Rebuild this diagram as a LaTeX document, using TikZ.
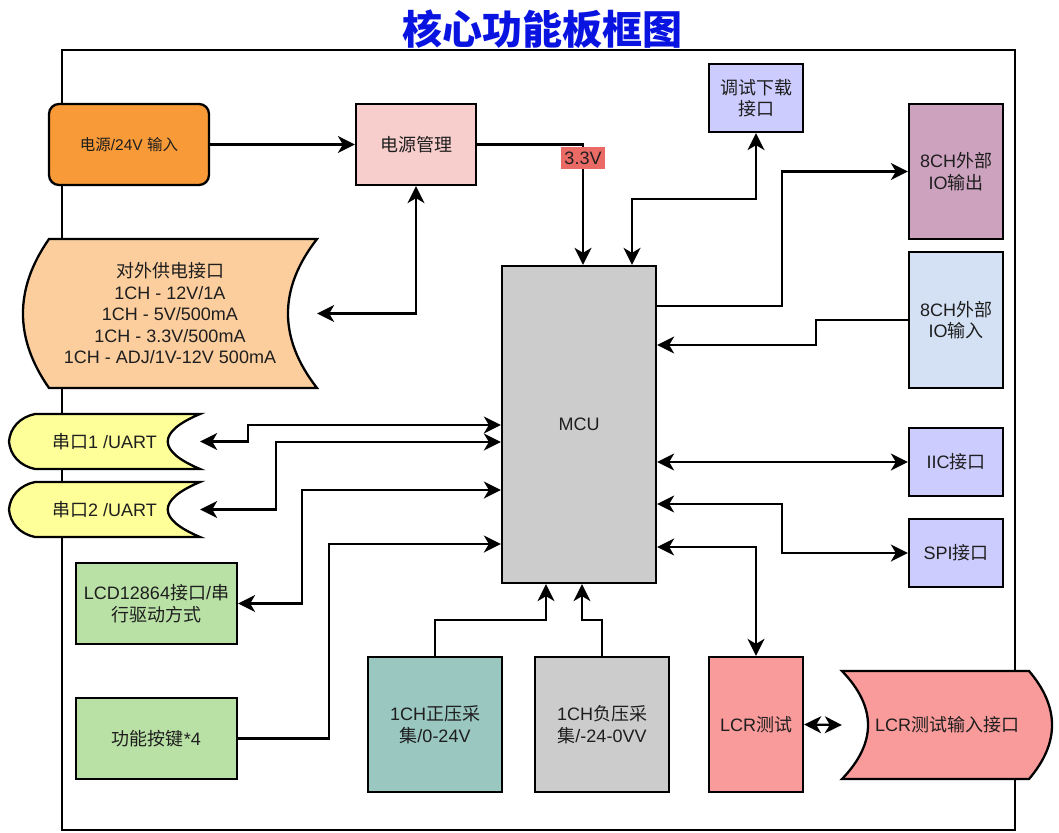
\documentclass[tikz,border=0pt]{standalone}
\usepackage{fontspec}
\setmainfont{Liberation Sans}
\newfontfamily\cjk{Noto Sans CJK SC}
\usetikzlibrary{arrows.meta,calc}
\newcommand{\zh}[1]{{\cjk #1}}
\definecolor{txt}{RGB}{30,30,30}
\definecolor{corange}{RGB}{248,154,56}
\definecolor{cpink}{RGB}{248,206,204}
\definecolor{cpeach}{RGB}{252,206,158}
\definecolor{cyel}{RGB}{255,255,153}
\definecolor{cgreen}{RGB}{185,224,165}
\definecolor{cteal}{RGB}{154,199,191}
\definecolor{cgray}{RGB}{204,204,204}
\definecolor{clav}{RGB}{204,204,255}
\definecolor{cmauve}{RGB}{205,162,190}
\definecolor{clblue}{RGB}{212,225,245}
\definecolor{csalmon}{RGB}{250,155,155}
\definecolor{clabel}{RGB}{234,107,102}
\definecolor{ctitle}{RGB}{10,20,225}
\tikzset{
  blk/.style={draw=black, line width=2.3pt, inner sep=2pt, align=center, text=txt,
    font=\fontsize{18}{21.5}\selectfont},
  ghost/.style={inner sep=2pt, align=center, text=txt, font=\fontsize{18}{21.5}\selectfont},
  shp/.style={draw=black, line width=2.3pt},
  tip/.tip={Stealth[length=17pt,width=17pt,inset=5pt]},
  conn/.style={line width=2.3pt, draw=black, -tip},
  conn2/.style={line width=2.3pt, draw=black, tip-tip},
}
\begin{document}
\begin{tikzpicture}[x=1pt,y=-1pt]
\useasboundingbox (0,0) rectangle (1059,832);
% frame
\draw[line width=2.3pt] (62,50) rectangle (1015,830);
% title
\node[text=ctitle, font=\cjk\bfseries\fontsize{40}{44}\selectfont, inner sep=0pt] (title) at (542,29) {核心功能板框图};

% custom shapes
\path[shp, fill=cpeach] (49,239) -- (317,239) .. controls (278.3,288.7) and (278.3,338.3) .. (317,388) -- (49,388) .. controls (14.3,338.3) and (14.3,288.7) .. (49,239) -- cycle;
\path[shp, fill=cyel] (35,414) -- (200,414) .. controls (157,432) and (157,451) .. (200,469) -- (35,469) .. controls (20,466) and (10,455) .. (9,441.5) .. controls (10,428) and (20,417) .. (35,414) -- cycle;
\path[shp, fill=cyel] (35,482) -- (200,482) .. controls (157,500) and (157,519) .. (200,537) -- (35,537) .. controls (20,534) and (10,523) .. (9,509.5) .. controls (10,496) and (20,485) .. (35,482) -- cycle;
\path[shp, fill=csalmon] (842,671) -- (1029,671) .. controls (1059.7,707) and (1059.7,743) .. (1029,779) -- (842,779) .. controls (876.7,743) and (876.7,707) .. (842,671) -- cycle;

% nodes
\node[blk, fill=corange, rounded corners=10pt, minimum width=160pt, minimum height=81pt, font=\fontsize{15.5}{18}\selectfont] (pin) at (129,144.5) {\zh{电源}/24V \zh{输入}};
\node[blk, fill=cpink, minimum width=120pt, minimum height=81pt] (pm) at (416,144.5) {\zh{电源管理}};
\node[ghost, minimum width=294pt, minimum height=149pt] (sup) at (170,313.5) {\zh{对外供电接口}\\1CH - 12V/1A\\1CH - 5V/500mA\\1CH - 3.3V/500mA\\1CH - ADJ/1V-12V 500mA};
\node[blk, fill=clav, minimum width=94pt, minimum height=68pt] (dbg) at (756,98) {\zh{调试下载}\\\zh{接口}};
\node[blk, fill=cgray, minimum width=154pt, minimum height=317pt] (mcu) at (579,424.5) {MCU};
\node[blk, fill=cmauve, minimum width=94pt, minimum height=135pt] (out) at (956,171.5) {8CH\zh{外部}\\IO\zh{输出}};
\node[blk, fill=clblue, minimum width=94pt, minimum height=136pt] (in) at (956,320) {8CH\zh{外部}\\IO\zh{输入}};
\node[blk, fill=clav, minimum width=94pt, minimum height=68pt] (iic) at (956,462) {IIC\zh{接口}};
\node[blk, fill=clav, minimum width=94pt, minimum height=68pt] (spi) at (956,553) {SPI\zh{接口}};
\node[blk, fill=csalmon, minimum width=94pt, minimum height=135pt] (lcr) at (756,724.5) {LCR\zh{测试}};
\node[ghost, minimum width=210pt, minimum height=108pt] (lcrin) at (947,725) {LCR\zh{测试输入接口}};
\node[blk, fill=cteal, minimum width=134pt, minimum height=135pt] (pos) at (435,724.5) {1CH\zh{正压采}\\\zh{集}/0-24V};
\node[blk, fill=cgray, minimum width=134pt, minimum height=135pt] (neg) at (602,724.5) {1CH\zh{负压采}\\\zh{集}/-24-0VV};
\node[ghost, minimum width=191pt, minimum height=55pt] (u1) at (104.5,441.5) {\zh{串口}1 /UART};
\node[ghost, minimum width=191pt, minimum height=55pt] (u2) at (104.5,509.5) {\zh{串口}2 /UART};
\node[blk, fill=cgreen, minimum width=161pt, minimum height=81pt, inner sep=0pt] (lcd) at (156.5,603.5) {LCD12864\zh{接口}/\zh{串}\\\zh{行驱动方式}};
\node[blk, fill=cgreen, minimum width=161pt, minimum height=81pt] (key) at (156.5,738.5) {\zh{功能按键}*4};

% connectors
\draw[conn] (pin) -- (pm);
\coordinate (j33) at (583,144.5);
\draw[conn] (pm.east) -- (j33) -- (mcu.north -| j33);
\node[fill=clabel, text=txt, font=\fontsize{18}{20}\selectfont, inner sep=1.5pt, minimum width=44pt, minimum height=22pt] (v33) at (583,158) {3.3V};
\draw[conn2] (pm.south) |- (sup.east);
\draw[conn2] (mcu.north -| 632,0) -- (632,199) -| (dbg.south);
\draw[conn] (mcu.east |- 0,306) -| (782,171.5) -- (out.west);
\draw[conn] (in.west) -| (816,345) -- (mcu.east |- 0,345);
\draw[conn2] (mcu.east |- iic.west) -- (iic.west);
\draw[conn2] (mcu.east |- 0,504) -| (782,553) -- (spi.west);
\draw[conn2] (mcu.east |- 0,547) -| (lcr.north);
\draw[conn2] (lcr.east) -- (lcrin.west);
\draw[conn] (pos.north) |- (546,620) -- (mcu.south -| 546,0);
\draw[conn] (neg.north) |- (582,620) -- (mcu.south -| 582,0);
\draw[conn2] (u1.east) -| (248,425) -- (mcu.west |- 0,425);
\draw[conn2] (u2.east) -| (276,442) -- (mcu.west |- 0,442);
\draw[conn2] (lcd.east) -| (302,490) -- (mcu.west |- 0,490);
\draw[conn] (key.east) -| (329,544) -- (mcu.west |- 0,544);
\end{tikzpicture}
\end{document}
